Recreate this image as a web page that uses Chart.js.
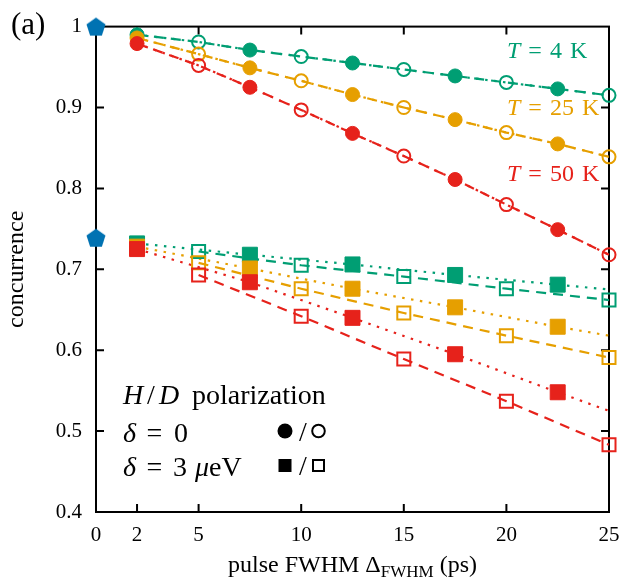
<!DOCTYPE html>
<html>
<head>
<meta charset="utf-8">
<script src="https://cdn.jsdelivr.net/npm/chart.js@4.4.1/dist/chart.umd.min.js"></script>
<style>
  html, body { margin: 0; padding: 0; background: #fff; }
  canvas { display: block; }
</style>
</head>
<body>
<canvas id="chart" width="631" height="580"></canvas>
<script>
// ---------- Data ----------
const xTicks = [0, 2, 5, 10, 15, 20, 25];
const yTicks = [0.4, 0.5, 0.6, 0.7, 0.8, 0.9, 1.0];

// filled marks (H) and open marks (D) sit on alternating pulse widths
const xFilled = [2, 7.5, 12.5, 17.5, 22.5];
const xOpen   = [5, 10, 15, 20, 25];

// delta = 0  -> circles
const circ4KFilled  = [0.990, 0.971, 0.955, 0.939, 0.923];
const circ4KOpen    = [0.981, 0.963, 0.947, 0.931, 0.915];
const circ25KFilled = [0.986, 0.949, 0.916, 0.885, 0.855];
const circ25KOpen   = [0.966, 0.933, 0.900, 0.869, 0.839];
const circ50KFilled = [0.979, 0.925, 0.868, 0.811, 0.749];
const circ50KOpen   = [0.952, 0.897, 0.840, 0.780, 0.718];

// delta = 3 ueV -> squares
const sq4KFilled  = [0.732, 0.718, 0.706, 0.693, 0.681];
const sq4KOpen    = [0.722, 0.705, 0.691, 0.676, 0.662];
const sq25KFilled = [0.728, 0.701, 0.676, 0.653, 0.629];
const sq25KOpen   = [0.708, 0.676, 0.646, 0.618, 0.591];
const sq50KFilled = [0.725, 0.684, 0.640, 0.595, 0.548];
const sq50KOpen   = [0.693, 0.642, 0.589, 0.537, 0.483];
// dotted (filled-square) curves run on to x = 25: 4 K, 25 K, 50 K
const sqDottedEnd = [0.675, 0.618, 0.525];

// reference values at zero pulse width (pentagons)
const xRef = [0, 0];
const yRef = [1.0, 0.739];

const tempLabels = ['4', '25', '50'];
const colors = ['#009e73', '#e69f00', '#e6221b'];
const blue = '#0072b2';
const SERIF = "'Liberation Serif', 'Times New Roman', serif";

// ---------- helpers ----------
const pts = (xs, ys) => xs.map((x, i) => ({ x, y: ys[i] }));
const merged = (a, b) => a.concat(b).sort((p, q) => p.x - q.x);

function pentagon (color) {
  const c = document.createElement('canvas');
  c.width = 22; c.height = 22;
  const g = c.getContext('2d');
  const R = 10, cx = 11, cy = 11 + 0.95;
  g.beginPath();
  for (let k = 0; k < 5; k++) {
    const a = -Math.PI / 2 + k * 2 * Math.PI / 5;
    g.lineTo(cx + R * Math.cos(a), cy + R * Math.sin(a));
  }
  g.closePath();
  g.fillStyle = color;
  g.fill();
  return c;
}

const circles = [
  [circ4KFilled, circ4KOpen], [circ25KFilled, circ25KOpen], [circ50KFilled, circ50KOpen]
];
const squares = [
  [sq4KFilled, sq4KOpen], [sq25KFilled, sq25KOpen], [sq50KFilled, sq50KOpen]
];

const DOT = [2.5, 6.5];
const DASH = [10, 7];

function lineDs (data, color, dash) {
  return { type: 'line', data, borderColor: color, borderWidth: 2.2, borderDash: dash,
           pointRadius: 0, fill: false, tension: 0, order: 20, clip: false };
}
function markDs (data, color, style, filled, r, order) {
  return { type: 'scatter', data, showLine: false, pointStyle: style,
           pointRadius: r, pointHoverRadius: r,
           pointBackgroundColor: filled ? color : 'rgba(0,0,0,0)',
           pointBorderColor: color, pointBorderWidth: filled ? 1 : 2,
           order, clip: false };
}

const datasets = [];
colors.forEach((col, i) => {
  const [cf, co] = circles[i];
  const [sf, so] = squares[i];
  const circLine = merged(pts(xFilled, cf), pts(xOpen, co));
  datasets.push(lineDs(circLine, col, DOT));
  datasets.push(lineDs(circLine, col, DASH));
  datasets.push(lineDs(pts(xFilled.concat([25]), sf.concat([sqDottedEnd[i]])), col, DOT));
  datasets.push(lineDs(pts(xOpen, so), col, DASH));
  const ord = 3 - i;   // red on top, green at the bottom
  datasets.push(markDs(pts(xFilled, cf), col, 'circle', true, 7, ord));
  datasets.push(markDs(pts(xOpen, co), col, 'circle', false, 6.5, ord));
  datasets.push(markDs(pts(xFilled, sf), col, 'rect', true, 10.6, ord));
  datasets.push(markDs(pts(xOpen, so), col, 'rect', false, 9.2, ord));
});
datasets.push({ type: 'scatter', data: pts(xRef, yRef), pointStyle: pentagon(blue),
                pointRadius: 10, order: 0, clip: false });

// ---------- plugins ----------
const frame = {
  id: 'frame',
  beforeDatasetsDraw (chart) {
    const { ctx, chartArea: a, scales: { x, y } } = chart;
    ctx.save();
    ctx.strokeStyle = '#000';
    ctx.lineWidth = 2;
    ctx.strokeRect(a.left, a.top, a.right - a.left, a.bottom - a.top);
    ctx.beginPath();
    xTicks.slice(1, -1).forEach(v => {
      const px = x.getPixelForValue(v);
      ctx.moveTo(px, a.bottom); ctx.lineTo(px, a.bottom - 8);
      ctx.moveTo(px, a.top);    ctx.lineTo(px, a.top + 8);
    });
    yTicks.slice(1, -1).forEach(v => {
      const py = y.getPixelForValue(v);
      ctx.moveTo(a.left, py);  ctx.lineTo(a.left + 8, py);
      ctx.moveTo(a.right, py); ctx.lineTo(a.right - 8, py);
    });
    ctx.stroke();
    ctx.restore();
  }
};

// draw a run of text pieces one after another
function run (ctx, x, y, parts) {
  parts.forEach(p => {
    ctx.font = p.font;
    const w = ctx.measureText(p.t).width;
    if (p.center != null) { ctx.fillText(p.t, p.center - w / 2, y + (p.dy || 0)); x = p.center + w / 2; }
    else { x += p.gap || 0; ctx.fillText(p.t, x, y + (p.dy || 0)); x += w; }
  });
  return x;
}

const annotations = {
  id: 'annotations',
  afterDraw (chart) {
    const { ctx, chartArea: a } = chart;
    ctx.save();
    ctx.textBaseline = 'alphabetic';
    const it = s => `italic ${s}px ${SERIF}`;
    const rm = s => `${s}px ${SERIF}`;

    // temperature labels
    const tBase = [58, 115, 181];
    colors.forEach((col, i) => {
      ctx.fillStyle = col;
      run(ctx, 507, tBase[i], [
        { t: 'T', font: it(24) }, { t: '=', font: rm(24), gap: 8 },
        { t: tempLabels[i], font: rm(24), gap: 8 }, { t: 'K', font: rm(24), gap: 8 }
      ]);
    });

    // panel letter
    ctx.fillStyle = '#000';
    ctx.font = rm(31);
    ctx.fillText('(a)', 11, 34);

    // legend box
    ctx.font = it(28); ctx.fillText('H', 123, 404);
    ctx.font = rm(28); ctx.fillText('/', 147, 404);
    ctx.font = it(28); ctx.fillText('D', 159, 404);
    ctx.font = rm(28); ctx.fillText('polarization', 192, 404);

    run(ctx, 123, 442, [{ t: 'δ', font: it(28) }, { t: '=', font: rm(28), center: 154.5 }, { t: '0', font: rm(28), center: 181 }]);
    run(ctx, 123, 476, [{ t: 'δ', font: it(28) }, { t: '=', font: rm(28), center: 154.5 }, { t: '3', font: rm(28), center: 180 },
                        { t: 'μ', font: it(28), gap: 8 }, { t: 'eV', font: rm(28) }]);

    ctx.beginPath(); ctx.arc(285, 431, 7.5, 0, 2 * Math.PI); ctx.fill();
    ctx.font = rm(28);
    ctx.fillText('/', 303 - ctx.measureText('/').width / 2, 441);
    ctx.fillText('/', 303 - ctx.measureText('/').width / 2, 475);
    ctx.lineWidth = 2; ctx.strokeStyle = '#000';
    ctx.beginPath(); ctx.arc(318.5, 431, 6.3, 0, 2 * Math.PI); ctx.stroke();
    ctx.fillRect(278.5, 459, 13, 13);
    ctx.strokeRect(313, 460, 11, 11);

    // x-axis title with subscript
    const pieces = [
      { t: 'pulse FWHM Δ', font: rm(24), dy: 0 },
      { t: 'FWHM', font: rm(17), dy: 5 },
      { t: ' (ps)', font: rm(24), dy: 0 }
    ];
    let total = 0;
    pieces.forEach(p => { ctx.font = p.font; total += ctx.measureText(p.t).width; });
    run(ctx, (a.left + a.right) / 2 - total / 2, 572, pieces);
    ctx.restore();
  }
};

// ---------- chart ----------
Chart.defaults.font.family = SERIF;
Chart.defaults.color = '#000';

new Chart(document.getElementById('chart'), {
  type: 'scatter',
  data: { datasets },
  options: {
    responsive: false,
    animation: false,
    devicePixelRatio: 1,
    layout: { padding: { top: 18, right: 22, left: 0, bottom: 0 } },
    plugins: { legend: { display: false }, tooltip: { enabled: false } },
    scales: {
      x: {
        type: 'linear', min: 0, max: 25,
        afterBuildTicks: s => { s.ticks = xTicks.map(v => ({ value: v })); },
        afterFit: s => { s.height = 68; },
        grid: { display: false, drawTicks: false }, border: { display: false },
        ticks: { font: { size: 21 }, color: '#000', padding: 11, maxRotation: 0, autoSkip: false }
      },
      y: {
        type: 'linear', min: 0.4, max: 1.0,
        afterBuildTicks: s => { s.ticks = yTicks.map(v => ({ value: v })); },
        afterFit: s => { s.width = 96; },
        grid: { display: false, drawTicks: false }, border: { display: false },
        ticks: { font: { size: 21 }, color: '#000', padding: 14,
                 callback: v => (Math.abs(v - 1) < 1e-9 ? '1' : v.toFixed(1)) },
        title: { display: true, text: 'concurrence', font: { size: 24 }, color: '#000',
                 padding: { top: 2, bottom: 0 } }
      }
    }
  },
  plugins: [frame, annotations]
});
</script>
</body>
</html>
